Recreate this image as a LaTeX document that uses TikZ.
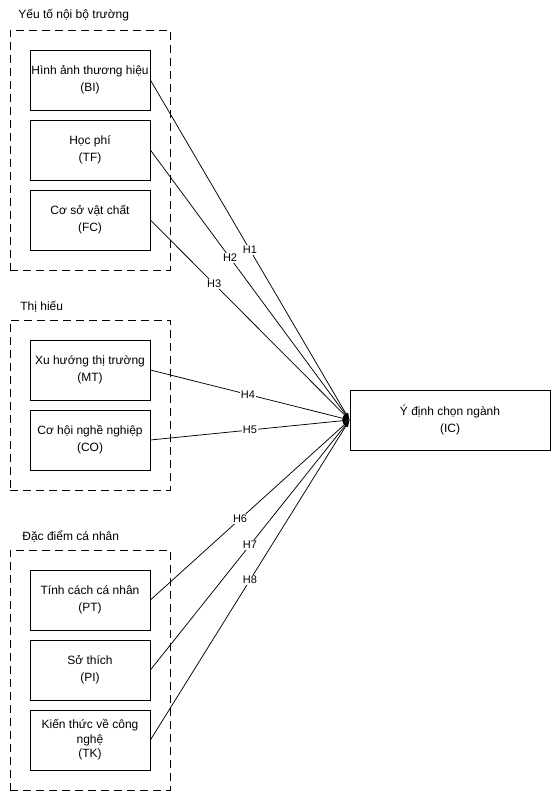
\documentclass[tikz,border=0pt]{standalone}
\usepackage{fontspec}
\setmainfont{Liberation Sans}
\usetikzlibrary{arrows.meta,positioning}

\begin{document}
\begin{tikzpicture}[x=1pt,y=-1pt,line width=0.75pt,>={Latex[length=7pt,width=5pt]},
  factor/.style={draw,minimum width=120pt,minimum height=60pt,align=center,inner sep=0pt,font=\fontsize{12}{17}\selectfont},
  group/.style={draw,dash pattern=on 8pt off 5pt,minimum width=160pt,inner sep=0pt},
  grouplabel/.style={anchor=west,inner sep=0pt,font=\fontsize{12}{14}\selectfont},
  hyp/.style={fill=white,inner sep=1pt,font=\fontsize{11}{13}\selectfont}]
  \useasboundingbox (0,0) rectangle (551,791);

  % groups
  \node[group,minimum height=240pt] (Gnb) at (90,150) {};
  \node[group,minimum height=170pt] (Gth) at (90,405) {};
  \node[group,minimum height=240pt] (Gcn) at (90,670) {};
  \node[grouplabel] (Lnb) at (18,15)  {Yếu tố nội bộ trường};
  \node[grouplabel] (Lth) at (20,307) {Thị hiếu};
  \node[grouplabel] (Lcn) at (22,537) {Đặc điểm cá nhân};

  % factors
  \node[factor] (BI) at (90,80)  {Hình ảnh thương hiệu\\(BI)};
  \node[factor] (TF) at (90,150) {Học phí\\(TF)};
  \node[factor] (FC) at (90,220) {Cơ sở vật chất\\(FC)};
  \node[factor] (MT) at (90,370) {Xu hướng thị trường\\(MT)};
  \node[factor] (CO) at (90,440) {Cơ hội nghề nghiệp\\(CO)};
  \node[factor] (PT) at (90,600) {Tính cách cá nhân\\(PT)};
  \node[factor] (PI) at (90,670) {Sở thích\\(PI)};
  \node[factor,font=\fontsize{12}{14.5}\selectfont] (TK) at (90,740) {Kiến thức về công\\nghệ\\(TK)};

  \node[factor,minimum width=200pt] (IC) at (450,420) {Ý định chọn ngành\\(IC)};

  % hypotheses
  \draw[->] (BI.east) -- node[hyp,pos=0.5]  {H1} (IC.west);
  \draw[->] (TF.east) -- node[hyp,pos=0.4]  {H2} (IC.west);
  \draw[->] (FC.east) -- node[hyp,pos=0.32] {H3} (IC.west);
  \draw[->] (MT.east) -- node[hyp,pos=0.49] {H4} (IC.west);
  \draw[->] (CO.east) -- node[hyp,pos=0.5]  {H5} (IC.west);
  \draw[->] (PT.east) -- node[hyp,pos=0.45] {H6} (IC.west);
  \draw[->] (PI.east) -- node[hyp,pos=0.5]  {H7} (IC.west);
  \draw[->] (TK.east) -- node[hyp,pos=0.5]  {H8} (IC.west);
\end{tikzpicture}
\end{document}
